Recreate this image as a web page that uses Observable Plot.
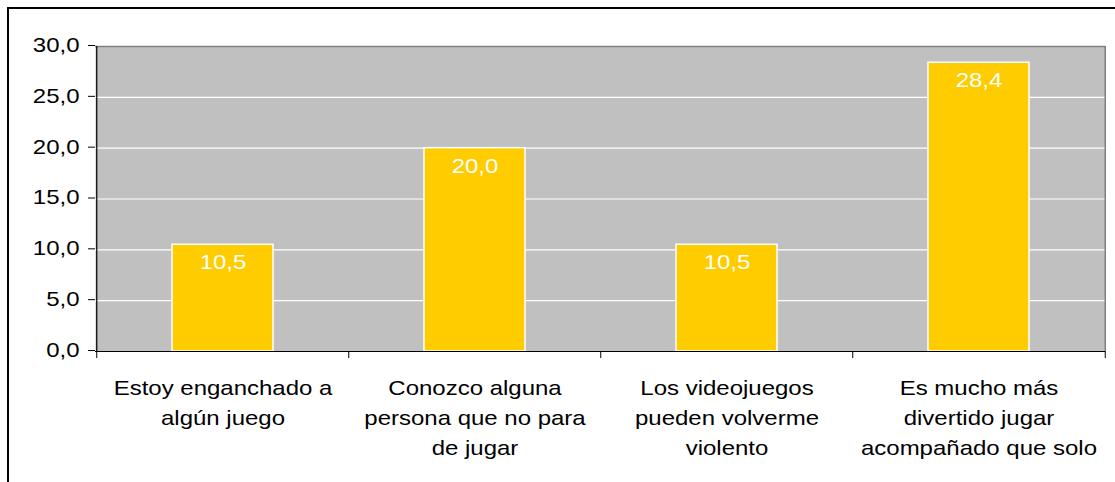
<!DOCTYPE html>
<html>
<head>
<meta charset="utf-8">
<script src="https://cdn.jsdelivr.net/npm/d3@7"></script>
<script src="https://cdn.jsdelivr.net/npm/@observablehq/plot@0.6"></script>
<style>
  html, body { margin: 0; padding: 0; background: #fff; }
  #wrap { position: relative; width: 1115px; height: 482px; overflow: hidden; }
  #border { position: absolute; left: 7px; top: 7px; width: 1200px; height: 600px; border-top: 2px solid #000; border-left: 2px solid #000; }
  #chart { position: absolute; left: 0; top: 0; }
</style>
</head>
<body>
<div id="wrap"><div id="border"></div><div id="chart"></div></div>
<script>
const categories = [
  "Estoy enganchado a\nalgún juego",
  "Conozco alguna\npersona que no para\nde jugar",
  "Los videojuegos\npueden volverme\nviolento",
  "Es mucho más\ndivertido jugar\nacompañado que solo"
];
const values = [10.5, 20.0, 10.5, 28.4];
const yTicks = [0, 5, 10, 15, 20, 25, 30];

const data = categories.map((c, i) => ({category: c, value: values[i]}));
const fmt = v => v.toFixed(1).replace(".", ",");

const width = 1115, height = 482;
const marginLeft = 95, marginRight = 10, marginTop = 46, marginBottom = 131;
const step = (width - marginLeft - marginRight) / categories.length;
const first = categories[0], last = categories[categories.length - 1];

const chart = Plot.plot({
  width, height, marginLeft, marginRight, marginTop, marginBottom,
  style: {fontFamily: "'Liberation Sans', Arial, sans-serif", fontSize: "20px", color: "#000", background: "transparent"},
  x: {domain: categories, paddingInner: 0.6, paddingOuter: 0.3, label: null},
  y: {domain: [0, 30], label: null},
  marks: [
    Plot.frame({fill: "#C0C0C0", stroke: null}),
    Plot.ruleY(yTicks.filter(t => t > 0 && t < 30), {stroke: "#fff", strokeWidth: 1.2}),
    Plot.ruleY([30], {stroke: "#808080", strokeWidth: 1.5}),
    Plot.ruleX([last], {dx: step / 2, stroke: "#808080", strokeWidth: 1.5}),
    Plot.barY(data, {x: "category", y: "value", fill: "#FFCC00", stroke: "#fff", strokeWidth: 1.5}),
    Plot.text(data, {x: "category", y: "value", text: d => fmt(d.value), fill: "#fff", dy: 18, fontSize: 20}),
    Plot.ruleX([first], {dx: -step / 2, stroke: "#000", strokeWidth: 1.2}),
    Plot.ruleY([0], {stroke: "#000", strokeWidth: 1.2}),
    Plot.axisY({ticks: yTicks, tickFormat: fmt, tickSize: 7, tickPadding: 9, fontSize: 20, stroke: "#000", label: null, dy: -1}),
    Plot.axisX({ticks: categories, tickSize: 7, dx: -step / 2, tickFormat: () => "", stroke: "#000", label: null}),
    Plot.axisX({ticks: [last], tickSize: 7, dx: step / 2, tickFormat: () => "", stroke: "#000", label: null}),
    Plot.axisX({ticks: categories, tickSize: 0, tickPadding: 22, fontSize: 20, lineHeight: 1.5, tickFormat: d => d, label: null})
  ]
});
document.getElementById("chart").appendChild(chart);

// The reference's lettering is horizontally stretched; widen each text about its anchor.
chart.querySelectorAll("text").forEach(t => {
  const tr = t.getAttribute("transform");
  if (tr) t.setAttribute("transform", tr + " scale(1.2,1)");
  else {
    const x = +(t.getAttribute("x") || 0);
    t.setAttribute("transform", `translate(${x},0) scale(1.2,1) translate(${-x},0)`);
  }
});
</script>
</body>
</html>
